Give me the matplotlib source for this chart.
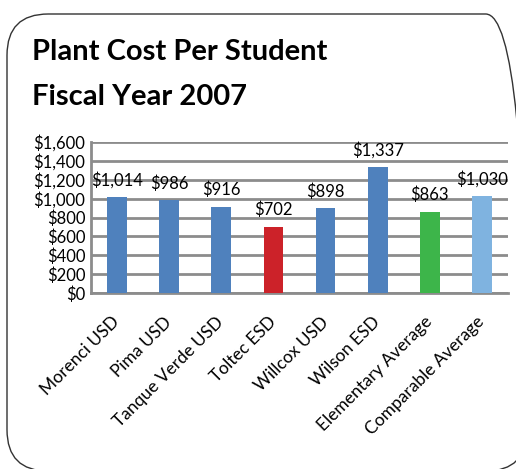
import numpy as np
import matplotlib
matplotlib.use('Agg')
import matplotlib.pyplot as plt
from matplotlib.patches import FancyBboxPatch

districts = ['Morenci USD', 'Pima USD', 'Tanque Verde USD', 'Toltec ESD',
             'Willcox USD', 'Wilson ESD', 'Elementary Average', 'Comparable Average']
cost = [1014, 986, 916, 702, 898, 1337, 863, 1030]
colors = ['#4f81bd', '#4f81bd', '#4f81bd', '#cc2229',
          '#4f81bd', '#4f81bd', '#3db54a', '#7fb3e0']
yticks = [0, 200, 400, 600, 800, 1000, 1200, 1400, 1600]

plt.rcParams['font.family'] = ['Lato', 'DejaVu Sans']

W, H = 516, 469
fig = plt.figure(figsize=(W/100, H/100), dpi=100)

# rounded frame around the whole chart (runs off the right and bottom edges)
box = FancyBboxPatch((7/W, -2/H), (527-7)/W, (455+2)/H,
                     boxstyle='round,pad=0,rounding_size=0.08',
                     transform=fig.transFigure, fill=False,
                     edgecolor='#333333', linewidth=1.0, mutation_aspect=W/H)
fig.patches.append(box)

fig.text(32/W, 1-52/H, 'Plant Cost Per Student', fontsize=21, fontweight='bold', va='center')
fig.text(32/W, 1-97/H, 'Fiscal Year 2007', fontsize=21, fontweight='bold', va='center')

ax = fig.add_axes([91/W, 1-293/H, (508-91)/W, (293-142)/H])
x = np.arange(len(districts))
bars = ax.bar(x, cost, width=0.38, color=colors, zorder=3)

ax.set_ylim(0, 1600)
ax.set_xlim(-0.5, len(districts)-0.5)
ax.set_yticks(yticks)
ax.set_yticklabels(['$' + format(v, ',') for v in yticks], fontsize=12)
ax.yaxis.grid(True, color='#8c8c8c', linewidth=2, zorder=0)
ax.tick_params(axis='y', length=0, pad=4)
ax.tick_params(axis='x', length=0, pad=19)
ax.set_xticks(x)
ax.set_xticklabels(districts, rotation=45, ha='right', va='center',
                   rotation_mode='anchor', fontsize=12.5)
for s in ['top', 'right']:
    ax.spines[s].set_visible(False)
for s in ['left', 'bottom']:
    ax.spines[s].set_color('#8c8c8c')
    ax.spines[s].set_linewidth(2)

for b, v in zip(bars, cost):
    ax.annotate('$' + format(v, ','), (b.get_x() + b.get_width()/2, v),
                xytext=(0, 6), textcoords='offset points',
                ha='center', va='bottom', fontsize=12)

fig.savefig('out.png', dpi=100)
